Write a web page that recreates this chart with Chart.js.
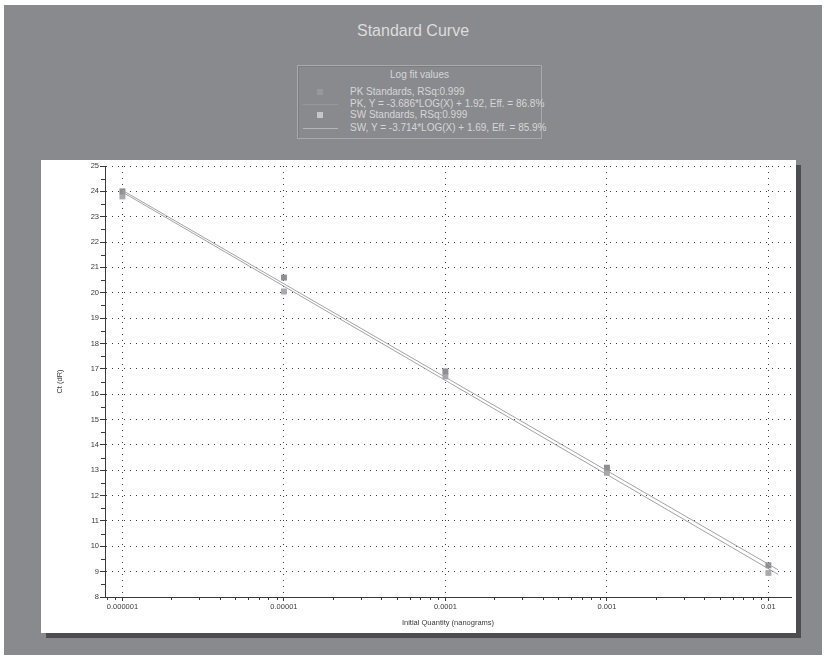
<!DOCTYPE html>
<html>
<head>
<meta charset="utf-8">
<script src="https://cdn.jsdelivr.net/npm/chart.js@4/dist/chart.umd.min.js"></script>
<style>
  body { margin: 0; background: #fff; font-family: "Liberation Sans", Arial, sans-serif; }
  #bg { position: absolute; left: 4px; top: 5px; width: 818px; height: 650px; background: #898a8e; }
  #title { position: absolute; left: 4px; width: 818px; top: 22px; text-align: center; color: #dcdcdc; font-size: 16px; }
  #legend { position: absolute; left: 297px; top: 65px; width: 243px; height: 72px; border: 1px solid #a9a9ab; box-shadow: inset 1px 1px 0 #7c7d80; }
  #legend .head { position: absolute; left: 0; width: 100%; top: 3px; text-align: center; color: #d6d6d6; font-size: 10px; }
  #legend .txt { position: absolute; left: 52px; color: #d6d6d6; font-size: 10px; white-space: nowrap; }
  #legend .mk { position: absolute; left: 19px; width: 6px; height: 6px; }
  #legend .ln { position: absolute; left: 5px; width: 35px; height: 1px; }
  #panel { position: absolute; left: 41px; top: 160px; width: 755px; height: 473px; background: #fff; box-shadow: 5px 5px 0 #4d4d50; }
</style>
</head>
<body>
<div id="bg"></div>
<div id="title">Standard Curve</div>
<div id="legend"><div class="head">Log fit values</div></div>
<div id="panel"><canvas id="curve" width="755" height="473"></canvas></div>
<script>
// initial quantities (ng) of the standards
const quantities = [0.000001, 0.00001, 0.0001, 0.001, 0.01];
const pkCt = [24.0, 20.6, 16.9, 13.1, 9.25];
const swCt = [23.8, 20.05, 16.7, 12.9, 8.95];

// fit line end points
const fitX = [0.000001, 0.0115];
const pkFitCt = [24.04, 9.07];
const swFitCt = [23.97, 8.89];

const xTicks = [0.000001, 0.00001, 0.0001, 0.001, 0.01];
const xTickLabels = ['0.000001', '0.00001', '0.0001', '0.001', '0.01'];

const legendRows = [
  'PK Standards, RSq:0.999',
  'PK, Y = -3.686*LOG(X) + 1.92, Eff. = 86.8%',
  'SW Standards, RSq:0.999',
  'SW, Y = -3.714*LOG(X) + 1.69, Eff. = 85.9%'
];

const pkColor = '#8f8f91';
const swColor = '#a9a9ab';
const fitColor = '#a3a3a5';

// legend box
const legend = document.getElementById('legend');
const rowTop = [20, 32, 43, 56];
legendRows.forEach((t, i) => {
  const d = document.createElement('div');
  d.className = 'txt';
  d.style.top = rowTop[i] + 'px';
  d.textContent = t;
  legend.appendChild(d);
  if (i % 2 === 0) {
    const m = document.createElement('div');
    m.className = 'mk';
    m.style.top = (rowTop[i] + 3) + 'px';
    m.style.background = i === 0 ? '#98989b' : '#c6c6c8';
    legend.appendChild(m);
  } else {
    const l = document.createElement('div');
    l.className = 'ln';
    l.style.top = (rowTop[i] + 6) + 'px';
    l.style.background = i === 1 ? '#97989b' : '#b5b5b7';
    legend.appendChild(l);
  }
});

const toPts = (xs, ys) => xs.map((x, i) => ({ x: x, y: ys[i] }));

// minor tick marks on both axes
const minorTicks = {
  id: 'minorTicks',
  afterDraw(chart) {
    const { ctx, scales: { x, y } } = chart;
    ctx.save();
    ctx.strokeStyle = '#3a3a3a';
    ctx.lineWidth = 1;
    ctx.beginPath();
    for (let v = y.min + 0.5; v < y.max; v += 1) {
      const py = Math.round(y.getPixelForValue(v)) + 0.5;
      ctx.moveTo(x.left - 4, py);
      ctx.lineTo(x.left, py);
    }
    for (let d = 1e-7; d < x.max; d *= 10) {
      for (let k = 2; k <= 9; k++) {
        const v = d * k;
        if (v < x.min || v > x.max) continue;
        const px = Math.round(x.getPixelForValue(v)) + 0.5;
        ctx.moveTo(px, y.bottom);
        ctx.lineTo(px, y.bottom + 3);
      }
    }
    ctx.stroke();
    ctx.restore();
  }
};

new Chart(document.getElementById('curve'), {
  type: 'scatter',
  data: {
    datasets: [
      { label: 'PK fit', data: toPts(fitX, pkFitCt), showLine: true, borderColor: fitColor, borderWidth: 1, pointRadius: 0 },
      { label: 'SW fit', data: toPts(fitX, swFitCt), showLine: true, borderColor: fitColor, borderWidth: 1, pointRadius: 0 },
      { label: 'PK Standards', data: toPts(quantities, pkCt), pointStyle: 'rect', pointRadius: 4.2, backgroundColor: pkColor, borderColor: pkColor, borderWidth: 0 },
      { label: 'SW Standards', data: toPts(quantities, swCt), pointStyle: 'rect', pointRadius: 4.2, backgroundColor: swColor, borderColor: swColor, borderWidth: 0 }
    ]
  },
  options: {
    responsive: false,
    animation: false,
    layout: { padding: { top: 6, right: 5, left: 0, bottom: 0 } },
    plugins: { legend: { display: false }, tooltip: { enabled: false } },
    scales: {
      x: {
        type: 'logarithmic',
        min: 0.00000078,
        max: 0.0138,
        afterBuildTicks: s => { s.ticks = xTicks.map(v => ({ value: v })); },
        afterFit: s => { s.height = 36; },
        ticks: {
          callback: v => xTickLabels[xTicks.indexOf(v)] ?? '',
          color: '#3a3a3a', font: { family: 'Liberation Sans', size: 7.5 }, padding: 1, maxRotation: 0
        },
        grid: { color: '#3c3c3c', tickColor: '#3a3a3a', tickLength: 4, tickBorderDash: [] },
        border: { color: '#3a3a3a', width: 1, dash: [1, 5] },
        title: { display: true, text: 'Initial Quantity (nanograms)', color: '#3a3a3a', font: { family: 'Liberation Sans', size: 7.5 }, padding: { top: 0, bottom: 6 } }
      },
      y: {
        min: 8,
        max: 25,
        afterFit: s => { s.width = 64; },
        ticks: { stepSize: 1, color: '#3a3a3a', font: { family: 'Liberation Sans', size: 7.5 }, padding: 1 },
        grid: { color: '#3c3c3c', tickColor: '#3a3a3a', tickLength: 5, tickBorderDash: [] },
        border: { color: '#3a3a3a', width: 1, dash: [1, 5] },
        title: { display: true, text: 'Ct (dR)', color: '#3a3a3a', font: { family: 'Liberation Sans', size: 7.5 }, padding: { top: 14, bottom: 0 } }
      }
    }
  },
  plugins: [minorTicks]
});
</script>
</body>
</html>
